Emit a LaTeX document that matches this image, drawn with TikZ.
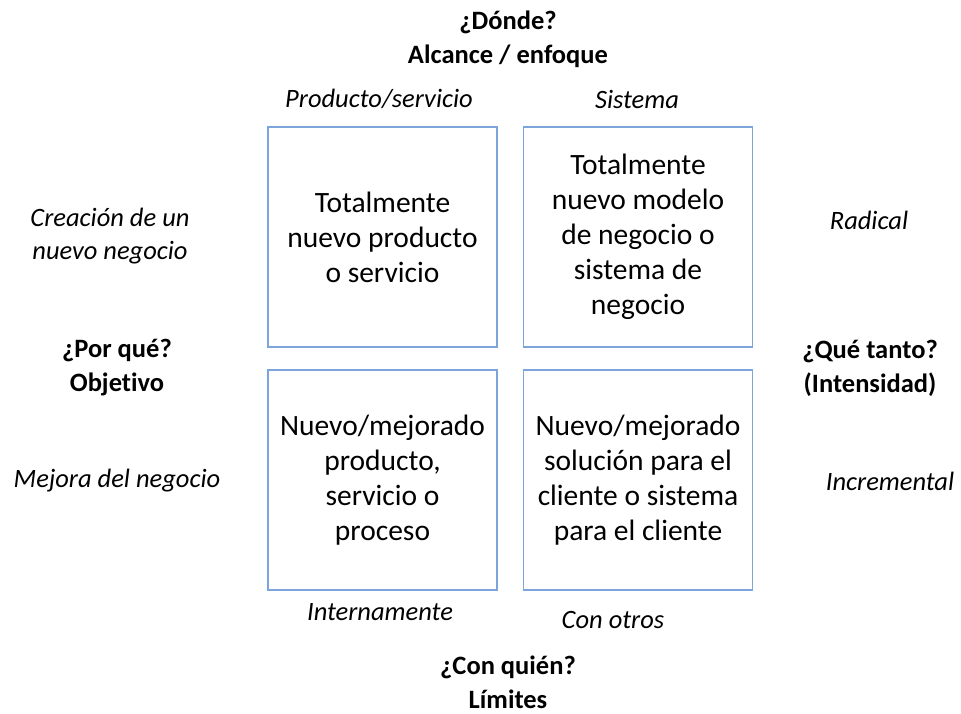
\documentclass[tikz,border=0pt]{standalone}
\usepackage{fontspec}
\setmainfont{Carlito}[Ligatures={NoCommon}]
\definecolor{boxblue}{RGB}{125,165,220}

\begin{document}
\begin{tikzpicture}[x=1pt, y=-1pt,
    cell/.style={
        draw=boxblue,
        line width=1.2pt,
        minimum width=229pt,
        minimum height=220pt,
        align=center,
        inner sep=0pt,
        font=\fontsize{29.5}{35}\selectfont
    },
    label/.style={
        align=center,
        font=\fontsize{26.5}{33}\selectfont\itshape
    },
    header/.style={
        align=center,
        font=\fontsize{26.5}{34}\selectfont\bfseries
    }
]
\useasboundingbox (0,0) rectangle (961,713);

% --- Boxes ---
\node[cell] (b1) at (382.5,237) {Totalmente\\nuevo producto\\o servicio};
\node[cell] (b2) at (638,237) {Totalmente\\nuevo modelo\\de negocio o\\sistema de\\negocio};
\node[cell] (b3) at (382.5,480) {Nuevo/mejorado\\producto,\\servicio o\\proceso};
\node[cell] (b4) at (638,480) {Nuevo/mejorado\\soluci\'on para el\\cliente o sistema\\para el cliente};

% --- Headers ---
\node[header] (top) at (508,39) {¿Dónde?\\Alcance / enfoque};
\node[header] (left) at (117,368) {¿Por qué?\\Objetivo};
\node[header] (right) at (870,368) {¿Qué tanto?\\(Intensidad)};
\node[header] (bottom) at (508,682) {¿Con quién?\\Límites};

% --- Labels ---
\node[label] (prod) at (379,99) {Producto/servicio};
\node[label] (sist) at (637,99) {Sistema};
\node[label] (crea) at (110,236) {Creación de un\\nuevo negocio};
\node[label] (mejo) at (117,481) {Mejora del negocio};
\node[label] (radi) at (869,220) {Radical};
\node[label] (incr) at (890,481) {Incremental};
\node[label] (inte) at (380,612) {Internamente};
\node[label] (otro) at (613,620) {Con otros};

\end{tikzpicture}
\end{document}
